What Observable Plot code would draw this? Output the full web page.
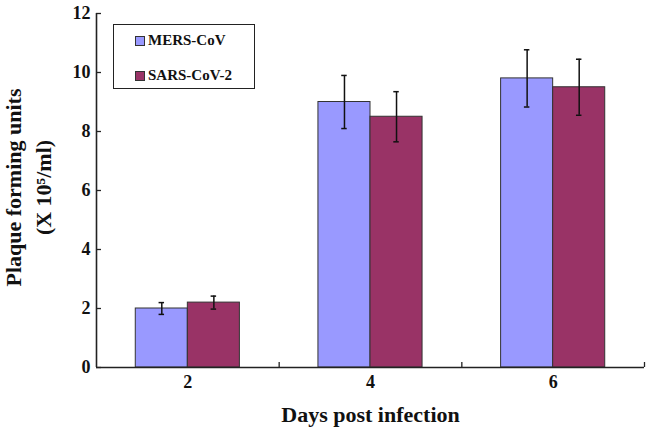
<!DOCTYPE html>
<html>
<head>
<meta charset="utf-8">
<script src="https://cdn.jsdelivr.net/npm/d3@7"></script>
<script src="https://cdn.jsdelivr.net/npm/@observablehq/plot@0.6"></script>
<style>
  html, body { margin: 0; padding: 0; background: #fff; }
  #wrap { position: relative; width: 646px; height: 427px; }
  #wrap svg { font-family: "Liberation Serif", "Times New Roman", serif; font-weight: bold; }
  #legend {
    position: absolute; left: 113px; top: 24px; width: 142px; height: 65px;
    box-sizing: border-box; border: 1px solid #222; background: #fff;
    font-family: "Liberation Serif", "Times New Roman", serif; font-weight: bold; font-size: 15px; color: #111;
  }
  .row { position: absolute; left: 21px; display: flex; align-items: center; white-space: nowrap; }
  .sw { width: 8px; height: 8px; border: 1px solid #333; margin-right: 3px; }
</style>
</head>
<body>
<div id="wrap"></div>
<script>
// ---- data ----
const days = [2, 4, 6];
const seriesNames = ["MERS-CoV", "SARS-CoV-2"];
const seriesColors = ["#9999FF", "#993366"];
const mersValues = [2.0, 9.0, 9.8];
const mersErrors = [0.2, 0.9, 0.97];
const sarsValues = [2.2, 8.5, 9.5];
const sarsErrors = [0.22, 0.85, 0.95];
const yTicks = [0, 2, 4, 6, 8, 10, 12];
const xTickLabels = ["2", "4", "6"];
const xBoundaryTicks = [3, 5, 7];

// half-width of one bar, in day units
const bw = 0.57;
const rows = [];
days.forEach((d, i) => {
  rows.push({day: d, series: seriesNames[0], value: mersValues[i], err: mersErrors[i], side: -1});
  rows.push({day: d, series: seriesNames[1], value: sarsValues[i], err: sarsErrors[i], side: 1});
});
const cx = r => r.day + r.side * bw / 2;
const cap = 0.03;

const plot = Plot.plot({
  width: 646,
  height: 427,
  marginLeft: 96,
  marginRight: 2,
  marginTop: 13,
  marginBottom: 60,
  style: {fontSize: "18px", fontFamily: "Liberation Serif, Times New Roman, serif", fontWeight: "bold", color: "#111", background: "#fff"},
  x: {type: "linear", domain: [1, 7]},
  y: {domain: [0, 12]},
  color: {domain: seriesNames, range: seriesColors},
  marks: [
    Plot.rectY(rows, {
      x1: r => r.side < 0 ? r.day - bw : r.day,
      x2: r => r.side < 0 ? r.day : r.day + bw,
      y1: 0, y2: "value", fill: "series", stroke: "#333", strokeWidth: 1
    }),
    Plot.ruleX(rows, {x: cx, y1: r => r.value - r.err, y2: r => r.value + r.err, stroke: "#111", strokeWidth: 1.5}),
    Plot.ruleY(rows, {y: r => r.value + r.err, x1: r => cx(r) - cap, x2: r => cx(r) + cap, stroke: "#111", strokeWidth: 1.5}),
    Plot.ruleY(rows, {y: r => r.value - r.err, x1: r => cx(r) - cap, x2: r => cx(r) + cap, stroke: "#111", strokeWidth: 1.5}),
    // axes lines and inward ticks
    Plot.ruleY([0], {x1: 1, x2: 7, stroke: "#222", strokeWidth: 1.6}),
    Plot.ruleX([1], {y1: 0, y2: 12, stroke: "#222", strokeWidth: 1.6}),
    Plot.ruleY(yTicks, {x1: 1, x2: 1.055, stroke: "#222", strokeWidth: 1.3}),
    Plot.ruleX(xBoundaryTicks, {y1: 0, y2: 0.17, stroke: "#222", strokeWidth: 1.3}),
    Plot.axisY({ticks: yTicks, tickSize: 0, tickPadding: 6, label: null, fontSize: 18}),
    Plot.axisX({ticks: days, tickFormat: (d, i) => xTickLabels[i], tickSize: 0, tickPadding: 8, label: null, fontSize: 18}),
    Plot.text(["Days post infection"], {frameAnchor: "bottom", lineAnchor: "top", dy: 39, fontSize: 22, fontWeight: "bold", fill: "#111"}),
    Plot.text(["Plaque forming units\n(X 10\u2075/ml)"], {frameAnchor: "left", textAnchor: "middle", lineAnchor: "middle", rotate: -90, dx: -70, dy: -3, lineHeight: 1.36, fontSize: 22, fontWeight: "bold", fill: "#111"})
  ]
});

const wrap = document.getElementById("wrap");
wrap.appendChild(plot);

const legend = document.createElement("div");
legend.id = "legend";
seriesNames.forEach((name, i) => {
  const row = document.createElement("div");
  row.className = "row";
  row.style.top = (i === 0 ? 7 : 42) + "px";
  const sw = document.createElement("span");
  sw.className = "sw";
  sw.style.background = seriesColors[i];
  const t = document.createElement("span");
  t.textContent = name;
  row.appendChild(sw);
  row.appendChild(t);
  legend.appendChild(row);
});
wrap.appendChild(legend);
</script>
</body>
</html>
